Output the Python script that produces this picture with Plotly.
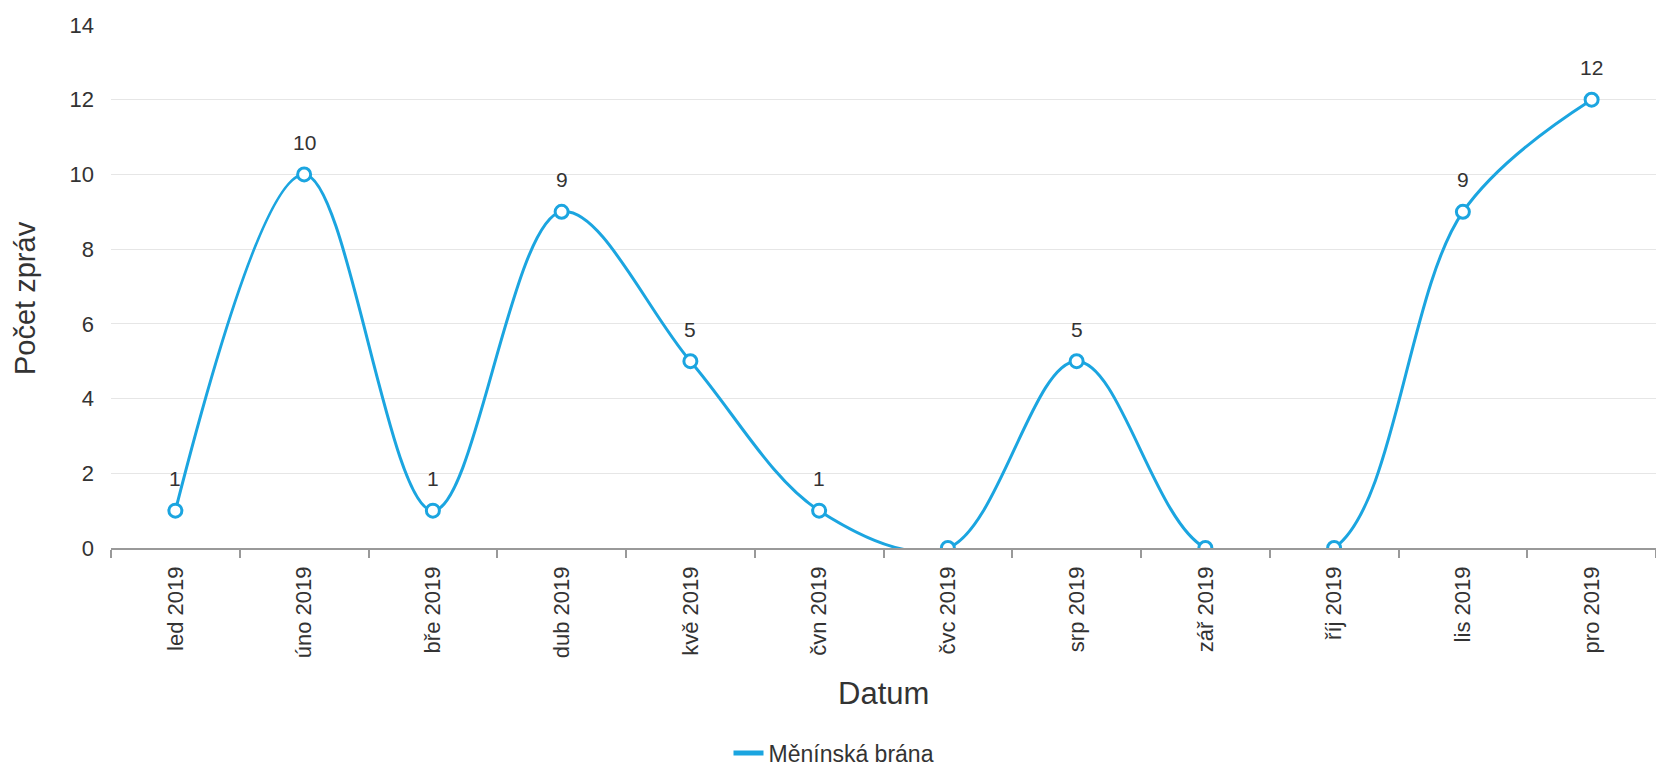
import plotly.graph_objects as go

categories = ["led 2019", "úno 2019", "bře 2019", "dub 2019", "kvě 2019", "čvn 2019",
              "čvc 2019", "srp 2019", "zář 2019", "říj 2019", "lis 2019", "pro 2019"]
values = [1, 10, 1, 9, 5, 1, 0, 5, 0, 0, 9, 12]
series_name = "Měnínská brána"
y_ticks = [0, 2, 4, 6, 8, 10, 12, 14]

FONT = "Liberation Sans, Arial, sans-serif"
BLUE = "#1ba5e0"
W, H = 1656, 768
L, R, T, B = 111, 0, 25, 220
pw, ph = W - L - R, H - T - B

fig = go.Figure()
fig.add_trace(go.Scatter(
    x=categories, y=values, name=series_name, showlegend=False,
    mode="lines+markers",
    line=dict(color=BLUE, width=3, shape="spline", smoothing=1.0),
    marker=dict(size=13, color="white", line=dict(color=BLUE, width=3)),
    cliponaxis=True, hoverinfo="x+y",
))
# legend entry (line symbol only)
fig.add_trace(go.Scatter(
    x=[None], y=[None], name=series_name, mode="lines",
    line=dict(color=BLUE, width=5), showlegend=True,
))

annotations = []
for c, v in zip(categories, values):
    if v > 0:
        annotations.append(dict(
            x=c, y=v, text=str(v), showarrow=False, yshift=32,
            xanchor="center", yanchor="middle",
            font=dict(family=FONT, size=21, color="#333333"),
        ))

annotations.append(dict(
    xref="paper", yref="paper", x=0.5, y=(T + ph - 693) / ph,
    text="Datum", showarrow=False, xanchor="center", yanchor="middle",
    font=dict(family=FONT, size=31, color="#333333"),
))
annotations.append(dict(
    xref="paper", yref="paper", x=(25 - L) / pw, y=(T + ph - 298) / ph,
    text="Počet zpráv", showarrow=False, textangle=-90,
    xanchor="center", yanchor="middle",
    font=dict(family=FONT, size=29, color="#333333"),
))

fig.update_layout(
    width=W, height=H,
    margin=dict(l=L, r=R, t=T, b=B, autoexpand=False),
    paper_bgcolor="white", plot_bgcolor="white",
    font=dict(family=FONT, color="#333333"),
    showlegend=True,
    legend=dict(
        orientation="h", x=(834 - L) / pw, xanchor="center",
        y=(T + ph - 753) / ph, yanchor="middle",
        font=dict(family=FONT, size=23, color="#333333"),
        bgcolor="rgba(0,0,0,0)", borderwidth=0,
    ),
    annotations=annotations,
    xaxis=dict(
        type="category", categoryorder="array", categoryarray=categories,
        range=[-0.5, len(categories) - 0.5],
        tickangle=-90, tickfont=dict(family=FONT, size=22, color="#333333"),
        showline=True, linecolor="#999999", linewidth=1.5,
        ticks="outside", ticklen=8, tickcolor="#999999", tickwidth=1.5,
        tickson="boundaries", showgrid=False, zeroline=False,
        ticklabelstandoff=8, automargin=False,
    ),
    yaxis=dict(
        range=[0, 14], tickvals=y_ticks,
        tickfont=dict(family=FONT, size=22, color="#333333"),
        showgrid=True, gridcolor="#e6e6e6", gridwidth=1,
        zeroline=False, showline=False, ticks="",
        ticklabelstandoff=16, automargin=False,
    ),
)

fig.write_html("out.html",
               config={"displayModeBar": False},
               post_script="document.body.style.margin='0';document.body.style.overflow='hidden';")
